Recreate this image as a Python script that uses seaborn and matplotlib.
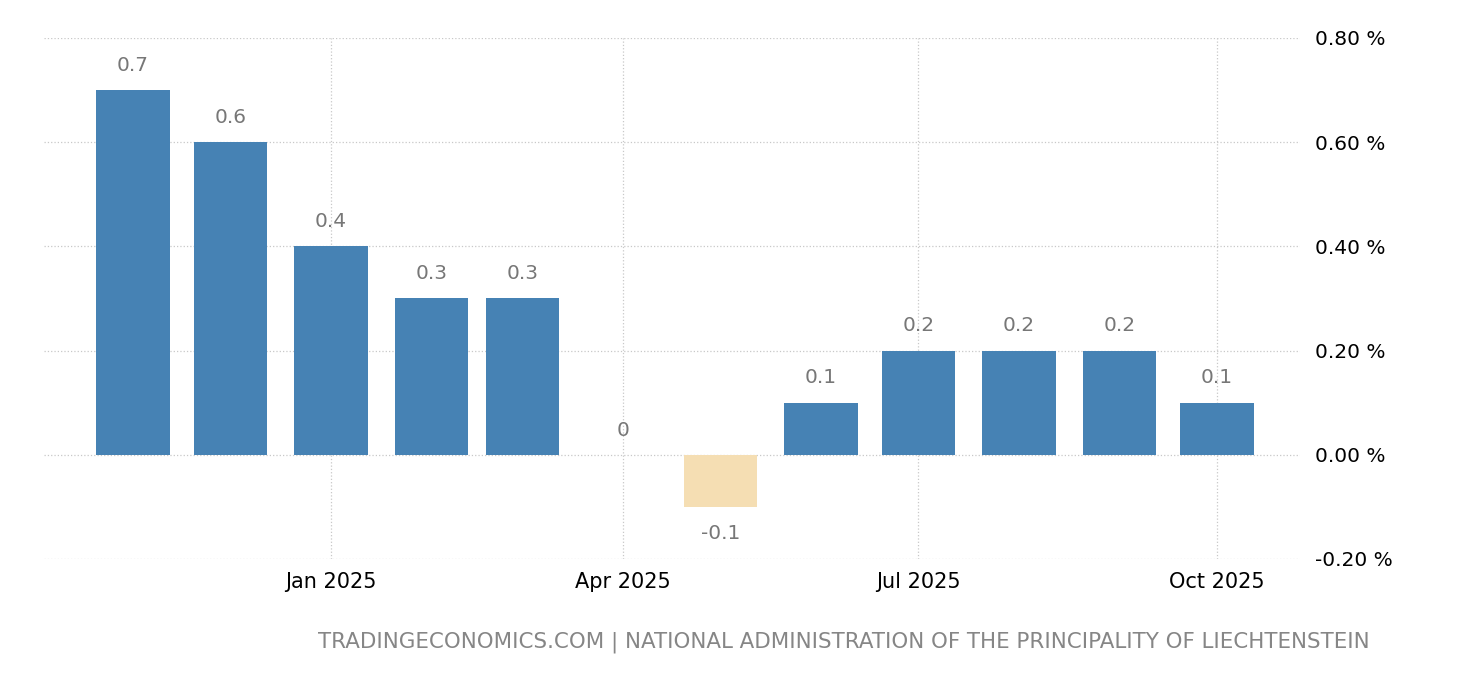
import pandas as pd
import numpy as np
import seaborn as sns
import matplotlib.pyplot as plt
import matplotlib.dates as mdates
from matplotlib.ticker import FuncFormatter

# monthly change, %
meses = ['2024-11-01', '2024-12-01', '2025-01-01', '2025-02-01', '2025-03-01', '2025-04-01',
         '2025-05-01', '2025-06-01', '2025-07-01', '2025-08-01', '2025-09-01', '2025-10-01']
valores = [0.7, 0.6, 0.4, 0.3, 0.3, 0.0, -0.1, 0.1, 0.2, 0.2, 0.2, 0.1]
ticks_x = ['2025-01-01', '2025-04-01', '2025-07-01', '2025-10-01']
ticks_y = [-0.2, 0.0, 0.2, 0.4, 0.6, 0.8]
fonte = 'TRADINGECONOMICS.COM | NATIONAL ADMINISTRATION OF THE PRINCIPALITY OF LIECHTENSTEIN'

df = pd.DataFrame({'data': pd.to_datetime(meses), 'valor': valores})
df['x'] = mdates.date2num(df['data'])
df['sinal'] = np.where(df['valor'] < 0, 'neg', 'pos')

sns.set_theme(style='white')
plt.rcParams['font.family'] = ['DejaVu Sans']

fig = plt.figure(figsize=(14.6, 6.8), dpi=100)
ax = fig.add_axes([44 / 1460, 1 - 559 / 680, (1300 - 44) / 1460, (559 - 38) / 680])

sns.barplot(data=df, x='x', y='valor', hue='sinal', native_scale=True, dodge=False,
            palette={'pos': '#4682B4', 'neg': '#F5DEB3'}, width=0.81, legend=False,
            saturation=1, linewidth=0, ax=ax)

# rótulos dos valores
for xi, v in zip(df['x'], df['valor']):
    if v < 0:
        ax.annotate(f'{v:g}', (xi, v), xytext=(0, -12), textcoords='offset points',
                    ha='center', va='top', color='#777777', fontsize=14.5)
    else:
        ax.annotate(f'{v:g}', (xi, v), xytext=(0, 11), textcoords='offset points',
                    ha='center', va='bottom', color='#777777', fontsize=14.5)

# escala em dias: Jan 1 2025 em x=331px, ~3.245 px/dia
x0 = mdates.date2num(pd.Timestamp('2025-01-01'))
ax.set_xlim(x0 + (44 - 331) / 3.245, x0 + (1300 - 331) / 3.245)
ax.set_ylim(-0.2, 0.8)

xt = mdates.date2num(pd.to_datetime(ticks_x))
ax.set_xticks(xt)
ax.set_xticklabels([pd.Timestamp(t).strftime('%b %Y') for t in ticks_x])
ax.set_yticks(ticks_y)
ax.yaxis.set_major_formatter(FuncFormatter(lambda v, p: f'{v:.2f} %'))
ax.yaxis.tick_right()

ax.set_xlabel('')
ax.set_ylabel('')
for s in ax.spines.values():
    s.set_visible(False)

ax.grid(True, linestyle=':', color='#c8c8c8', linewidth=0.9)
ax.set_axisbelow(True)
ax.tick_params(axis='x', length=7, color='#d0d0d0', labelsize=15, labelcolor='black', pad=2)
ax.tick_params(axis='y', length=0, labelsize=14.5, labelcolor='black', pad=11)

fig.text(1370 / 1460, 1 - 642 / 680, fonte, ha='right', va='center',
         color='#868686', fontsize=15.4)

fig.savefig('out.png', dpi=100)
